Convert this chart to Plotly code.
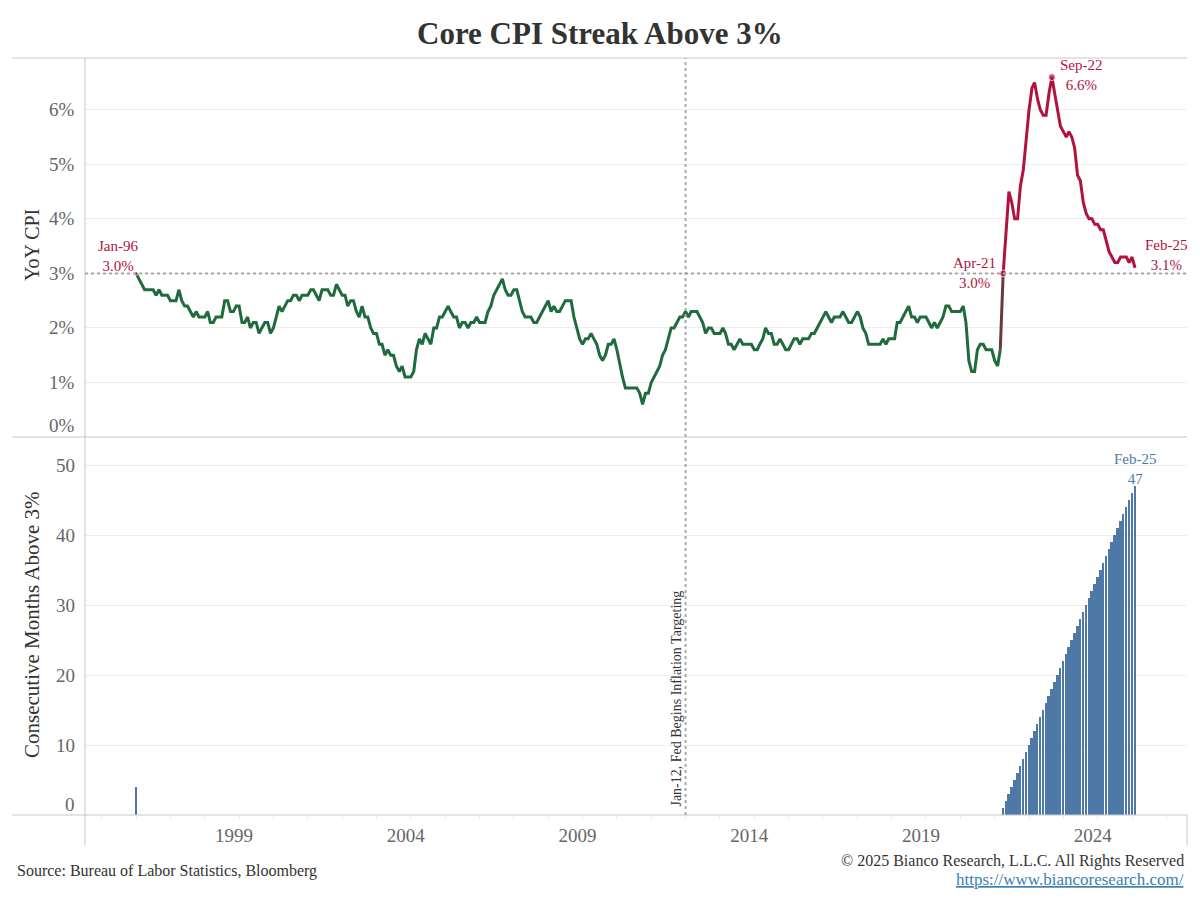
import pandas as pd
import plotly.graph_objects as go

# ---------------- data ----------------
months = pd.date_range("1996-01-01", "2025-02-01", freq="MS")

core_cpi_yoy = [
    3.0, 2.9, 2.8, 2.7, 2.7, 2.7, 2.7, 2.6, 2.7, 2.6, 2.6, 2.6,  # 1996
    2.5, 2.5, 2.5, 2.7, 2.5, 2.4, 2.4, 2.3, 2.2, 2.3, 2.2, 2.2,  # 1997
    2.2, 2.3, 2.1, 2.1, 2.2, 2.2, 2.2, 2.5, 2.5, 2.3, 2.3, 2.4,  # 1998
    2.4, 2.1, 2.1, 2.2, 2.0, 2.1, 2.1, 1.9, 2.0, 2.1, 2.1, 1.9,  # 1999
    2.0, 2.2, 2.4, 2.3, 2.4, 2.5, 2.5, 2.6, 2.6, 2.5, 2.6, 2.6,  # 2000
    2.6, 2.7, 2.7, 2.6, 2.5, 2.7, 2.7, 2.7, 2.6, 2.6, 2.8, 2.7,  # 2001
    2.6, 2.6, 2.4, 2.5, 2.5, 2.3, 2.2, 2.4, 2.2, 2.2, 2.0, 1.9,  # 2002
    1.9, 1.7, 1.7, 1.5, 1.6, 1.5, 1.5, 1.3, 1.2, 1.3, 1.1, 1.1,  # 2003
    1.1, 1.2, 1.6, 1.8, 1.7, 1.9, 1.8, 1.7, 2.0, 2.0, 2.2, 2.2,  # 2004
    2.3, 2.4, 2.3, 2.2, 2.2, 2.0, 2.1, 2.1, 2.0, 2.1, 2.1, 2.2,  # 2005
    2.1, 2.1, 2.1, 2.3, 2.4, 2.6, 2.7, 2.8, 2.9, 2.7, 2.6, 2.6,  # 2006
    2.7, 2.7, 2.5, 2.3, 2.2, 2.2, 2.2, 2.1, 2.1, 2.2, 2.3, 2.4,  # 2007
    2.5, 2.3, 2.4, 2.3, 2.3, 2.4, 2.5, 2.5, 2.5, 2.2, 2.0, 1.8,  # 2008
    1.7, 1.8, 1.8, 1.9, 1.8, 1.7, 1.5, 1.4, 1.5, 1.7, 1.7, 1.8,  # 2009
    1.6, 1.3, 1.1, 0.9, 0.9, 0.9, 0.9, 0.9, 0.8, 0.6, 0.8, 0.8,  # 2010
    1.0, 1.1, 1.2, 1.3, 1.5, 1.6, 1.8, 2.0, 2.0, 2.1, 2.2, 2.2,  # 2011
    2.3, 2.2, 2.3, 2.3, 2.3, 2.2, 2.1, 1.9, 2.0, 2.0, 1.9, 1.9,  # 2012
    1.9, 2.0, 1.9, 1.7, 1.7, 1.6, 1.7, 1.8, 1.7, 1.7, 1.7, 1.7,  # 2013
    1.6, 1.6, 1.7, 1.8, 2.0, 1.9, 1.9, 1.7, 1.7, 1.8, 1.7, 1.6,  # 2014
    1.6, 1.7, 1.8, 1.8, 1.7, 1.8, 1.8, 1.8, 1.9, 1.9, 2.0, 2.1,  # 2015
    2.2, 2.3, 2.2, 2.1, 2.2, 2.2, 2.2, 2.3, 2.2, 2.1, 2.1, 2.2,  # 2016
    2.3, 2.2, 2.0, 1.9, 1.7, 1.7, 1.7, 1.7, 1.7, 1.8, 1.7, 1.8,  # 2017
    1.8, 1.8, 2.1, 2.1, 2.2, 2.3, 2.4, 2.2, 2.2, 2.1, 2.2, 2.2,  # 2018
    2.2, 2.1, 2.0, 2.1, 2.0, 2.1, 2.2, 2.4, 2.4, 2.3, 2.3, 2.3,  # 2019
    2.3, 2.4, 2.1, 1.4, 1.2, 1.2, 1.6, 1.7, 1.7, 1.6, 1.6, 1.6,  # 2020
    1.4, 1.3, 1.6, 3.0, 3.8, 4.5, 4.3, 4.0, 4.0, 4.6, 4.9, 5.5,  # 2021
    6.0, 6.4, 6.5, 6.2, 6.0, 5.9, 5.9, 6.3, 6.6, 6.3, 6.0, 5.7,  # 2022
    5.6, 5.5, 5.6, 5.5, 5.3, 4.8, 4.7, 4.3, 4.1, 4.0, 4.0, 3.9,  # 2023
    3.9, 3.8, 3.8, 3.6, 3.4, 3.3, 3.2, 3.2, 3.3, 3.3, 3.3, 3.2,  # 2024
    3.3, 3.1,                                                    # 2025
]

# consecutive months at/above 3% (only non-zero months shown)
streak_jan96 = 4
streak_apr21_feb25 = [1, 2, 3, 4, 5, 6, 7, 8, 9, 10, 11, 12, 13, 14, 15, 16,
                      17, 18, 19, 20, 21, 22, 23, 24, 25, 26, 27, 28, 29, 30,
                      31, 32, 33, 34, 35, 36, 37, 38, 39, 40, 41, 42, 43, 44,
                      45, 46, 47]

year_ticks = ["1999", "2004", "2009", "2014", "2019", "2024"]
cpi_ticks = [0, 1, 2, 3, 4, 5, 6]
cpi_tick_text = ["0%", "1%", "2%", "3%", "4%", "5%", "6%"]
streak_ticks = [0, 10, 20, 30, 40, 50]
streak_tick_text = ["0", "10", "20", "30", "40", "50"]
threshold = 3.0
fed_target_date = "2012-01-01"

# ---------------- styling ----------------
GREEN = "#1f6b3d"
RED = "#b0133e"
BLUE = "#4e79a7"
FONT = "Liberation Serif, DejaVu Serif, serif"
GRID = "#eeeeee"
BORDER = "#c8c8c8"
TICK_COLOR = "#666666"

i_apr21 = list(months).index(pd.Timestamp("2021-04-01"))
i_sep22 = list(months).index(pd.Timestamp("2022-09-01"))

fig = go.Figure()

# green segment (below 3%)
fig.add_trace(go.Scatter(x=months[:i_apr21], y=core_cpi_yoy[:i_apr21], mode="lines",
                         line=dict(color=GREEN, width=3), xaxis="x", yaxis="y",
                         hoverinfo="skip", showlegend=False))
# transition segment
fig.add_trace(go.Scatter(x=months[i_apr21 - 1:i_apr21 + 1], y=core_cpi_yoy[i_apr21 - 1:i_apr21 + 1],
                         mode="lines", line=dict(color="#6b3a3c", width=3), xaxis="x", yaxis="y",
                         hoverinfo="skip", showlegend=False))
# red segment (streak above 3%)
fig.add_trace(go.Scatter(x=months[i_apr21:], y=core_cpi_yoy[i_apr21:], mode="lines",
                         line=dict(color=RED, width=3), xaxis="x", yaxis="y",
                         hoverinfo="skip", showlegend=False))
# markers
fig.add_trace(go.Scatter(x=[months[0], months[i_apr21], months[i_sep22]],
                         y=[core_cpi_yoy[0], core_cpi_yoy[i_apr21], core_cpi_yoy[i_sep22]],
                         mode="markers", marker=dict(color=RED, size=[4, 7, 7]),
                         xaxis="x", yaxis="y", hoverinfo="skip", showlegend=False))

# bars
bar_x = [months[0]] + list(months[i_apr21:])
bar_y = [streak_jan96] + streak_apr21_feb25
fig.add_trace(go.Bar(x=bar_x, y=bar_y, marker=dict(color=BLUE, line=dict(width=0)),
                     width=21 * 24 * 3600 * 1000, xaxis="x", yaxis="y2",
                     hoverinfo="skip", showlegend=False))

# ---------------- layout ----------------
L, R, T, B = 85, 13, 58, 85
W, H = 1200, 900
pw, ph = W - L - R, H - T - B


def px_x(p):
    return (p - L) / pw


def px_y(p):
    return (H - B - p) / ph


shapes = [
    # borders
    dict(type="line", xref="paper", yref="paper", x0=px_x(12), x1=1, y0=1, y1=1,
         line=dict(color=BORDER, width=1)),
    dict(type="line", xref="paper", yref="paper", x0=px_x(12), x1=1, y0=px_y(437), y1=px_y(437),
         line=dict(color=BORDER, width=1)),
    dict(type="line", xref="paper", yref="paper", x0=px_x(12), x1=1, y0=0, y1=0,
         line=dict(color=BORDER, width=1)),
    dict(type="line", xref="paper", yref="paper", x0=0, x1=0, y0=px_y(845), y1=1,
         line=dict(color=BORDER, width=1)),
    dict(type="line", xref="paper", yref="paper", x0=1, x1=1, y0=px_y(845), y1=0,
         line=dict(color=BORDER, width=1)),
    # 3% threshold
    dict(type="line", xref="paper", yref="y", x0=0, x1=1, y0=threshold, y1=threshold,
         line=dict(color="#aaaaaa", width=2, dash="dot")),
    # Fed inflation targeting
    dict(type="line", xref="x", yref="paper", x0=fed_target_date, x1=fed_target_date, y0=0, y1=1,
         line=dict(color="#aaaaaa", width=2, dash="dot")),
]

ann_font = dict(family=FONT, size=15, color=RED)
tick_font = dict(family=FONT, size=19, color=TICK_COLOR)
annotations = [
    dict(text="Core CPI Streak Above 3%", x=px_x(600), xref="paper", y=1, yref="paper",
         yshift=25, xanchor="center", yanchor="middle", showarrow=False,
         font=dict(family=FONT, size=31, color="#333333", weight="bold")),
    dict(text="Jan-96<br>3.0%", x=months[0], y=core_cpi_yoy[0], xref="x", yref="y",
         xanchor="center", yanchor="bottom", xshift=-18, yshift=-3, showarrow=False, font=ann_font),
    dict(text="Apr-21<br>3.0%", x=months[i_apr21], y=core_cpi_yoy[i_apr21], xref="x", yref="y",
         xanchor="right", yanchor="middle", xshift=-5, yshift=0, showarrow=False, font=ann_font),
    dict(text="Sep-22<br>6.6%", x=months[i_sep22], y=core_cpi_yoy[i_sep22], xref="x", yref="y",
         xanchor="left", yanchor="middle", xshift=6, yshift=2, showarrow=False, font=ann_font),
    dict(text="Feb-25<br>3.1%", x=months[-1], y=core_cpi_yoy[-1], xref="x", yref="y",
         xanchor="left", yanchor="middle", xshift=8, yshift=13, showarrow=False, font=ann_font),
    dict(text="Feb-25<br>47", x=bar_x[-1], y=bar_y[-1], xref="x", yref="y2",
         xanchor="center", yanchor="bottom", xshift=0, yshift=-3, showarrow=False,
         font=dict(family=FONT, size=15, color=BLUE)),
    dict(text="Jan-12, Fed Begins Inflation Targeting", x=fed_target_date, xref="x",
         y=0, yref="paper", yshift=6, xshift=-10, textangle=-90, xanchor="center", yanchor="bottom",
         showarrow=False, font=dict(family=FONT, size=14, color="#333333")),
    # axis titles
    dict(text="YoY CPI", x=px_x(32), xref="paper", y=px_y(245), yref="paper", textangle=-90,
         xanchor="center", yanchor="middle", showarrow=False,
         font=dict(family=FONT, size=20, color="#333333")),
    dict(text="Consecutive Months Above 3%", x=px_x(32), xref="paper", y=px_y(625), yref="paper",
         textangle=-90, xanchor="center", yanchor="middle", showarrow=False,
         font=dict(family=FONT, size=21, color="#333333")),
    # footer
    dict(text="Source: Bureau of Labor Statistics, Bloomberg", x=px_x(15), xref="paper",
         y=px_y(871), yref="paper", xanchor="left", yanchor="middle", showarrow=False,
         font=dict(family=FONT, size=16, color="#333333")),
    dict(text="© 2025 Bianco Research, L.L.C. All Rights Reserved", x=px_x(1186), xref="paper",
         y=px_y(861), yref="paper", xanchor="right", yanchor="middle", showarrow=False,
         font=dict(family=FONT, size=16, color="#333333")),
    dict(text="<u>https://www.biancoresearch.com/</u>", x=px_x(1186), xref="paper",
         y=px_y(879), yref="paper", xanchor="right", yanchor="middle", showarrow=False,
         font=dict(family=FONT, size=17, color="#3a7fb5")),
]

# y tick labels (the bottom label of each panel sits slightly raised, as in the original)
for v, t in zip(cpi_ticks, cpi_tick_text):
    annotations.append(dict(text=t, x=0, xref="paper", y=v, yref="y", xanchor="right",
                            yanchor="middle", xshift=-8, yshift=12 if v == 0 else 0,
                            showarrow=False, font=tick_font))
for v, t in zip(streak_ticks, streak_tick_text):
    annotations.append(dict(text=t, x=0, xref="paper", y=v, yref="y2", xanchor="right",
                            yanchor="middle", xshift=-8, yshift=11 if v == 0 else 0,
                            showarrow=False, font=tick_font))

fig.update_layout(
    width=W, height=H,
    margin=dict(l=L, r=R, t=T, b=B, autoexpand=False),
    paper_bgcolor="white", plot_bgcolor="white",
    font=dict(family=FONT, color=TICK_COLOR),
    bargap=0,
    showlegend=False,
    xaxis=dict(
        type="date", anchor="y2",
        range=["1994-07-07", "2026-08-08"],
        tickvals=[f"{y}-01-01" for y in year_ticks], ticktext=year_ticks,
        tickfont=dict(family=FONT, size=19, color=TICK_COLOR),
        ticklabelshift=-5,
        ticks="outside", ticklen=3, tickcolor="#e6e6e6",
        minor=dict(dtick="M12", tick0="1995-01-01", ticks="outside", ticklen=3, tickcolor="#e6e6e6"),
        showgrid=False, zeroline=False, showline=False,
    ),
    yaxis=dict(
        domain=[px_y(437), 1], range=[0, 6.95],
        tickvals=[v for v in cpi_ticks if v > 0], showticklabels=False, ticks="",
        showgrid=True, gridcolor=GRID, gridwidth=1, zeroline=False, showline=False,
    ),
    yaxis2=dict(
        domain=[0, px_y(437)], range=[0, 54], anchor="x",
        tickvals=[v for v in streak_ticks if v > 0], showticklabels=False, ticks="",
        showgrid=True, gridcolor=GRID, gridwidth=1, zeroline=False, showline=False,
    ),
    shapes=shapes,
    annotations=annotations,
)

fig.write_html("out.html", config={"displayModeBar": False},
               post_script="document.body.style.margin='0';")
